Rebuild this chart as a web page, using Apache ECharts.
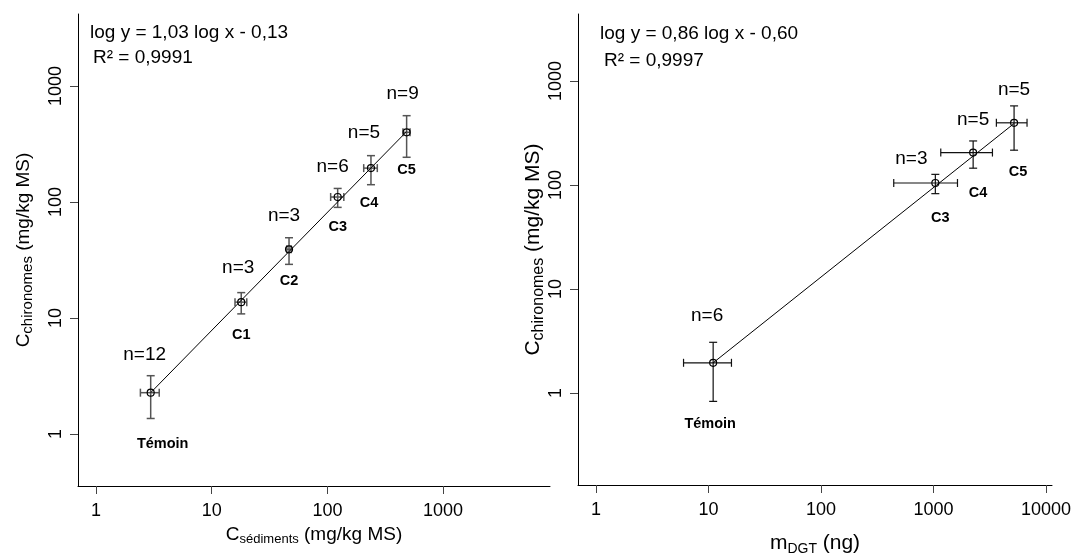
<!DOCTYPE html>
<html>
<head>
<meta charset="utf-8">
<script src="https://cdn.jsdelivr.net/npm/echarts@6/dist/echarts.min.js"></script>
<style>
html,body{margin:0;padding:0;background:#fff;}
#chart{width:1073px;height:554px;}
</style>
</head>
<body>
<div id="chart"></div>
<script>
// ---------- DATA ----------
// Left panel: chironomes vs sediments
const leftNames = ['Témoin', 'C1', 'C2', 'C3', 'C4', 'C5'];
const leftN = ['n=12', 'n=3', 'n=3', 'n=6', 'n=5', 'n=9'];
const sedX = [2.97, 18.0, 46.6, 122.7, 238, 484];
const sedXErr = [0.55, 2.1, 2.0, 16, 32, 34];
const chiLeftY = [2.27, 13.7, 39.1, 110.4, 196, 399];
const chiLeftYErr = [0.91, 2.85, 10.1, 20.5, 55, 156];
const leftFitX = [2.97, 484];
const leftFitY = [2.27, 405];

// Right panel: chironomes vs DGT mass
const rightNames = ['Témoin', 'C3', 'C4', 'C5'];
const rightN = ['n=6', 'n=3', 'n=5', 'n=5'];
const dgtX = [11.0, 1038, 2250, 5200];
const dgtXErr = [5.0, 595, 1090, 1580];
const chiRightY = [1.95, 104.5, 205, 396];
const chiRightYErr = [1.12, 22, 60, 180];
const rightFitX = [11.0, 5200];
const rightFitY = [1.95, 390];

const tickValuesLeftX = [1, 10, 100, 1000];
const tickValuesRightX = [1, 10, 100, 1000, 10000];
const tickValuesY = [1, 10, 100, 1000];

const eqLeft = ['log y = 1,03 log x - 0,13', 'R² = 0,9991'];
const eqRight = ['log y = 0,86 log x - 0,60', 'R² = 0,9997'];

// ---------- LAYOUT (label offsets in px, not data) ----------
const leftNOffset = [[-6, -38], [-3, -34], [-5, -34], [-5, -30], [-7, -35], [-4, -39]];
const leftNameOffset = [[12, 51], [0, 33], [0, 32], [0, 30], [-2, 35], [0, 38]];
const rightNOffset = [[-6, -47], [-24, -24], [0, -33], [0, -33]];
const rightNameOffset = [[-3, 61], [5, 35], [5, 40], [4, 49]];

const FONT = '"Liberation Sans", Arial, Helvetica, sans-serif';

function zip(xs, ys) { return xs.map((x, i) => [x, ys[i]]); }

function errorBarSeries(xs, ys, exs, eys, gridIdx, color, width) {
  return {
    type: 'custom',
    xAxisIndex: gridIdx, yAxisIndex: gridIdx,
    clip: false,
    silent: true,
    data: xs.map((x, i) => [x, ys[i], exs[i], eys[i]]),
    encode: { x: 0, y: 1 },
    z: 3,
    renderItem: function (params, api) {
      const x = api.value(0), y = api.value(1), ex = api.value(2), ey = api.value(3);
      const c = api.coord([x, y]);
      const l = api.coord([x - ex, y]);
      const r = api.coord([x + ex, y]);
      const t = api.coord([x, y + ey]);
      const b = api.coord([x, y - ey]);
      const cap = 4;
      const st = { stroke: color, lineWidth: width, fill: null };
      return {
        type: 'group',
        children: [
          { type: 'line', shape: { x1: l[0], y1: c[1], x2: r[0], y2: c[1] }, style: st },
          { type: 'line', shape: { x1: l[0], y1: c[1] - cap, x2: l[0], y2: c[1] + cap }, style: st },
          { type: 'line', shape: { x1: r[0], y1: c[1] - cap, x2: r[0], y2: c[1] + cap }, style: st },
          { type: 'line', shape: { x1: c[0], y1: t[1], x2: c[0], y2: b[1] }, style: st },
          { type: 'line', shape: { x1: c[0] - cap, y1: t[1], x2: c[0] + cap, y2: t[1] }, style: st },
          { type: 'line', shape: { x1: c[0] - cap, y1: b[1], x2: c[0] + cap, y2: b[1] }, style: st }
        ]
      };
    }
  };
}

function pointSeries(xs, ys, nLabels, nOffsets, gridIdx) {
  return {
    type: 'scatter',
    xAxisIndex: gridIdx, yAxisIndex: gridIdx,
    symbol: 'circle', symbolSize: 7,
    itemStyle: { color: 'rgba(255,255,255,0)', borderColor: '#000', borderWidth: 1.2, opacity: 1 },
    z: 5,
    silent: true,
    data: xs.map((x, i) => ({
      value: [x, ys[i]],
      label: { show: true, formatter: nLabels[i], position: 'inside', offset: nOffsets[i], opacity: 1,
        fontFamily: FONT, fontSize: 19, color: '#000', align: 'center', verticalAlign: 'middle' }
    }))
  };
}

function nameSeries(xs, ys, names, offsets, gridIdx) {
  return {
    type: 'scatter',
    xAxisIndex: gridIdx, yAxisIndex: gridIdx,
    symbol: 'circle', symbolSize: 1,
    itemStyle: { color: 'rgba(0,0,0,0)', opacity: 1 },
    z: 6,
    silent: true,
    data: xs.map((x, i) => ({
      value: [x, ys[i]],
      label: { show: true, formatter: names[i], position: 'inside', offset: offsets[i], opacity: 1,
        fontFamily: FONT, fontSize: 14.5, fontWeight: 'bold', color: '#000', align: 'center', verticalAlign: 'middle' }
    }))
  };
}

function fitSeries(xs, ys, gridIdx) {
  return {
    type: 'line',
    xAxisIndex: gridIdx, yAxisIndex: gridIdx,
    data: zip(xs, ys),
    showSymbol: false, symbol: 'none',
    lineStyle: { color: '#000', width: 1 },
    z: 4, silent: true
  };
}

function logAxis(opts) {
  return Object.assign({
    type: 'log',
    logBase: 10,
    splitLine: { show: false },
    axisLine: { show: true, onZero: false, lineStyle: { color: '#000', width: 1 } },
    nameLocation: 'middle'
  }, opts);
}

const yNameLeft = '{m|C}{s|chironomes}{m| (mg/kg MS)}';
const xNameLeft = '{m|C}{s|sédiments}{m| (mg/kg MS)}';
const yNameRight = '{m|C}{s|chironomes}{m| (mg/kg MS)}';
const xNameRight = '{m|m}{s|DGT}{m| (ng)}';

function rich(main, sub) {
  return {
    m: { fontFamily: FONT, fontSize: main, color: '#000', lineHeight: main + 4, verticalAlign: 'bottom' },
    s: { fontFamily: FONT, fontSize: sub, color: '#000', lineHeight: sub, verticalAlign: 'bottom', padding: [0, 0, -2, 0] }
  };
}

function ticks(vals) {
  return { show: true, length: 8, customValues: vals, lineStyle: { color: '#444', width: 1 } };
}
function labels(vals, extra) {
  return Object.assign({ customValues: vals, fontFamily: FONT, fontSize: 18, color: '#000',
    formatter: v => String(Math.round(v)) }, extra);
}

const option = {
  backgroundColor: '#fff',
  animation: false,
  grid: [
    { left: 78, top: 14, width: 472, height: 472, outerBoundsMode: 'none', containLabel: false },
    { left: 578, top: 14, width: 474, height: 471, outerBoundsMode: 'none', containLabel: false }
  ],
  xAxis: [
    logAxis({ gridIndex: 0, min: 0.699, max: 8395,
      axisTick: ticks(tickValuesLeftX),
      axisLabel: labels(tickValuesLeftX, { margin: 16 }),
      name: xNameLeft, nameGap: 35,
      nameTextStyle: { rich: rich(19, 13) } }),
    logAxis({ gridIndex: 1, min: 0.692, max: 11300,
      axisTick: ticks(tickValuesRightX),
      axisLabel: labels(tickValuesRightX, { margin: 16 }),
      name: xNameRight, nameGap: 44,
      nameTextStyle: { rich: rich(21, 14) } })
  ],
  yAxis: [
    logAxis({ gridIndex: 0, min: 0.356, max: 4178,
      axisTick: ticks(tickValuesY),
      axisLabel: labels(tickValuesY, { rotate: 90, margin: 13 }),
      name: yNameLeft, nameGap: 45, nameRotate: 90,
      nameTextStyle: { rich: rich(19, 15) } }),
    logAxis({ gridIndex: 1, min: 0.1303, max: 4406,
      axisTick: ticks(tickValuesY),
      axisLabel: labels(tickValuesY, { rotate: 90, margin: 13 }),
      name: yNameRight, nameGap: 25, nameRotate: 90,
      nameTextStyle: { rich: rich(21, 16) } })
  ],
  graphic: [
    { type: 'text', left: 90, top: 23, style: { text: eqLeft[0], font: '19px ' + FONT, fill: '#000' } },
    { type: 'text', left: 93, top: 48, style: { text: eqLeft[1], font: '19px ' + FONT, fill: '#000' } },
    { type: 'text', left: 600, top: 24, style: { text: eqRight[0], font: '19px ' + FONT, fill: '#000' } },
    { type: 'text', left: 604, top: 51, style: { text: eqRight[1], font: '19px ' + FONT, fill: '#000' } }
  ],
  series: [
    fitSeries(leftFitX, leftFitY, 0),
    errorBarSeries(sedX, chiLeftY, sedXErr, chiLeftYErr, 0, '#555', 1.5),
    pointSeries(sedX, chiLeftY, leftN, leftNOffset, 0),
    nameSeries(sedX, chiLeftY, leftNames, leftNameOffset, 0),
    fitSeries(rightFitX, rightFitY, 1),
    errorBarSeries(dgtX, chiRightY, dgtXErr, chiRightYErr, 1, '#111', 1.2),
    pointSeries(dgtX, chiRightY, rightN, rightNOffset, 1),
    nameSeries(dgtX, chiRightY, rightNames, rightNameOffset, 1)
  ]
};

const chart = echarts.init(document.getElementById('chart'), null, { renderer: 'canvas' });
chart.setOption(option);
</script>
</body>
</html>
